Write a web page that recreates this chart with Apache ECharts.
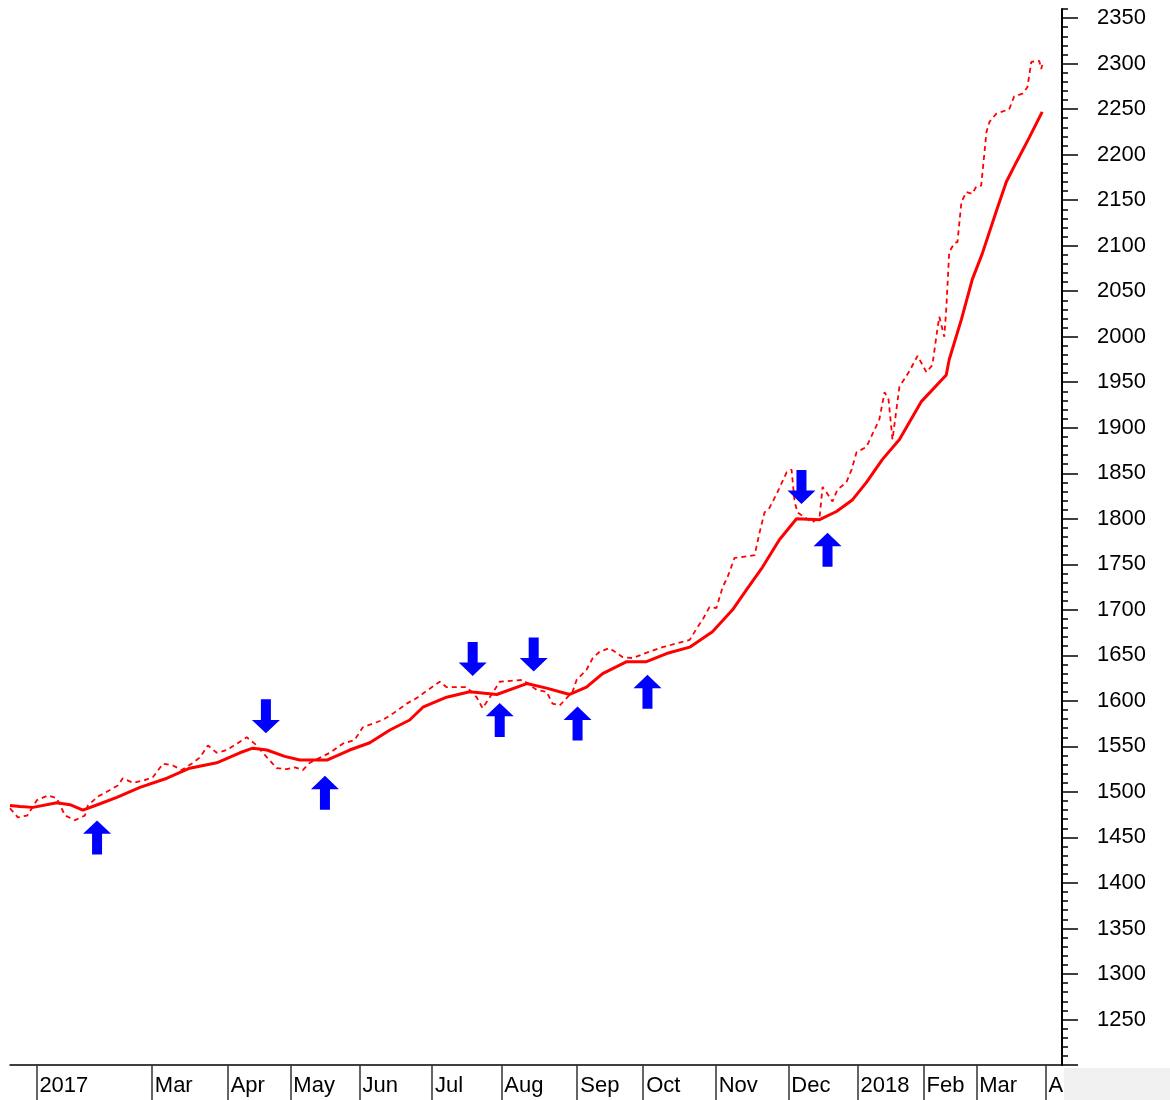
<!DOCTYPE html>
<html>
<head>
<meta charset="utf-8">
<script src="https://cdn.jsdelivr.net/npm/echarts@6/dist/echarts.min.js"></script>
<style>
html,body{margin:0;padding:0;background:#fff;}
#chart{width:1170px;height:1100px;}
</style>
</head>
<body>
<div id="chart"></div>
<script>
// x axis: trading-day index
const monthLabels = ['2017','Mar','Apr','May','Jun','Jul','Aug','Sep','Oct','Nov','Dec','2018','Feb','Mar','Apr'];
const monthStartDay = [8,43,66,85,106,128,149,172,192,214,236,257,277,293,314];
const yTickValues = [1200,1250,1300,1350,1400,1450,1500,1550,1600,1650,1700,1750,1800,1850,1900,1950,2000,2050,2100,2150,2200,2250,2300,2350];
const yLabelValues = [1250,1300,1350,1400,1450,1500,1550,1600,1650,1700,1750,1800,1850,1900,1950,2000,2050,2100,2150,2200,2250,2300,2350];

// moving average (solid)
const maLine = [[0,1485],[3,1484],[7,1483],[14.2,1488],[18.2,1486],[22.1,1480],[27.3,1487],[32.4,1494],[39.4,1505],[47.6,1515],[54.5,1526],[62.7,1532],[69.7,1543],[73.6,1548],[77.9,1546],[83.3,1539],[87.9,1535],[96.1,1535],[103,1546],[109.1,1554],[115.2,1568],[121.2,1579],[125.2,1593],[132.4,1604],[139.4,1610],[147.6,1607],[156.7,1619],[162.7,1614],[169.7,1607],[174.8,1615],[179.7,1630],[187,1643],[193,1643],[199.1,1652],[206.1,1659],[213,1676],[219.1,1700],[223.3,1722],[228.2,1747],[233.3,1777],[238.5,1800],[245.5,1799],[250.6,1808],[255.5,1821],[259.7,1840],[264.5,1865],[269.7,1887],[276.4,1929],[283.9,1958],[284.8,1975],[288.5,2019],[291.8,2063],[294.8,2091],[299.1,2138],[302.1,2170],[305.2,2192],[309.1,2219],[313,2247]];

// daily close (dashed)
const closeLine = [[0,1482],[2.4,1472],[5.2,1474],[8.2,1491],[11.5,1496],[14.2,1493],[16.7,1474],[19.7,1469],[22.7,1474],[23.6,1485],[26.7,1495],[30.3,1502],[32.7,1507],[34.2,1515],[37.3,1510],[40.9,1513],[43.3,1516],[46.4,1531],[49.4,1529],[52.1,1524],[55.5,1532],[57.6,1538],[60,1551],[62.7,1543],[65.8,1546],[68.8,1553],[71.8,1560],[74.2,1553],[77.9,1538],[80.9,1526],[83.9,1525],[86.4,1527],[88.8,1524],[90.9,1532],[97,1543],[100.9,1553],[104.5,1557],[107,1571],[110,1575],[113,1579],[116.1,1586],[120.3,1597],[123.3,1603],[126.7,1612],[130.3,1621],[132.4,1615],[138.5,1615],[141.5,1604],[143.3,1592],[145.5,1604],[148.5,1621],[155.5,1623],[159.7,1612],[162.7,1610],[164.5,1597],[166.7,1595],[170.6,1610],[171.8,1623],[174.8,1634],[176.7,1647],[178.8,1654],[181.8,1658],[185.8,1648],[188.8,1647],[193.9,1654],[197.9,1659],[202.1,1663],[206.1,1667],[208.5,1681],[210,1689],[212.1,1703],[214.2,1702],[216.1,1725],[217.6,1736],[219.7,1757],[225.8,1760],[227.3,1785],[228.8,1807],[230.3,1812],[232.7,1829],[235.5,1851],[237,1854],[237.9,1819],[238.8,1807],[243.3,1796],[245.5,1802],[246.4,1835],[247.6,1829],[249.4,1819],[250.9,1832],[253.6,1840],[255.2,1854],[256.7,1873],[259.7,1879],[263.6,1909],[265.2,1939],[266.4,1931],[267.6,1887],[269.7,1945],[272.7,1962],[275.2,1979],[277.9,1961],[279.7,1969],[281.2,2008],[281.8,2022],[283.3,2000],[283.9,2030],[284.8,2093],[286.4,2103],[287.3,2104],[288.5,2148],[290,2159],[291.8,2157],[293,2165],[294.5,2166],[296.1,2225],[297,2236],[299.1,2245],[303,2250],[304.5,2264],[307,2267],[308.5,2274],[309.7,2302],[312.1,2303],[312.7,2294],[313.3,2303]];

// signal arrows
const upArrows = [[26.4,1450],[95.5,1499],[148.5,1579],[172.1,1575],[193.3,1610],[247.9,1766]];
const downArrows = [[77.6,1583],[140.3,1646],[158.8,1651],[240,1835]];

const FONT = '"Liberation Sans", Arial, sans-serif';
const downPath = 'path://M9,0 L19,0 L19,20 L28,20 L14,33 L0,20 L9,20 Z';
const upPath = 'path://M14,0 L28,13 L19,13 L19,33 L9,33 L9,13 L0,13 Z';

const chart = echarts.init(document.getElementById('chart'), null, {renderer:'canvas'});
chart.setOption({
  animation:false,
  backgroundColor:'#ffffff',
  grid:{left:10,right:108,top:9,bottom:35},
  xAxis:{
    type:'value', min:0, max:319,
    splitLine:{show:false},
    axisLine:{show:true,onZero:false,lineStyle:{color:'#000',width:1.5}},
    axisTick:{show:true,customValues:monthStartDay,length:35,lineStyle:{color:'#333',width:1.5}},
    axisLabel:{
      customValues:monthStartDay, align:'left', margin:10, padding:[0,0,0,3],
      fontSize:22, color:'#000', fontFamily:FONT, verticalAlign:'top',
      formatter:function(v){ const i = monthStartDay.indexOf(v); return i>=0 ? monthLabels[i] : ''; }
    }
  },
  yAxis:[{
    type:'value', position:'right', min:1200, max:2360,
    splitLine:{show:false},
    axisLine:{show:true,onZero:false,lineStyle:{color:'#000',width:2}},
    axisTick:{show:true,customValues:yTickValues,length:16,lineStyle:{color:'#000',width:1.5}},
    axisLabel:{customValues:yLabelValues,margin:35,fontSize:22,color:'#000',fontFamily:FONT,
      formatter:function(v){ return String(v); }}
  },{
    type:'value', position:'right', min:1200, max:2360, interval:10,
    splitLine:{show:false},
    axisLine:{show:false,onZero:false},
    axisTick:{show:true,length:6,lineStyle:{color:'#000',width:1.5}},
    axisLabel:{show:false}
  }],
  series:[
    {type:'line', data:closeLine, showSymbol:false, symbol:'none',
     lineStyle:{color:'#ff0000',width:1.8,type:[5,4]}, z:2},
    {type:'line', data:maLine, showSymbol:false, symbol:'none',
     lineStyle:{color:'#ff0000',width:3}, z:3},
    {type:'scatter', data:upArrows, symbol:upPath, symbolSize:[28,34],
     itemStyle:{color:'#0000ff',opacity:1}, z:4},
    {type:'scatter', data:downArrows, symbol:downPath, symbolSize:[28,34],
     itemStyle:{color:'#0000ff',opacity:1}, z:4}
  ],
  graphic:[{type:'rect', z:100, shape:{x:1064,y:1068,width:106,height:32}, style:{fill:'#f0f0f0'}}]
});
</script>
</body>
</html>
